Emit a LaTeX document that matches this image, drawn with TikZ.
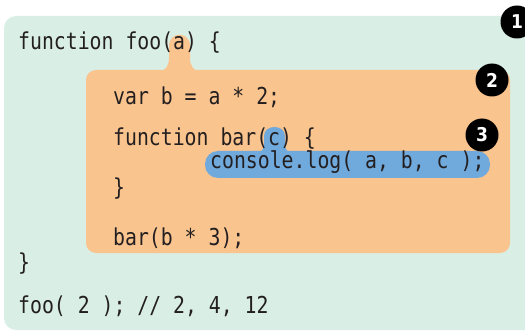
\documentclass[tikz,border=0pt]{standalone}
\usepackage{fontspec}
\usepackage{tikz}
\usetikzlibrary{positioning}
\newfontfamily\codefont{DejaVu Sans Mono}[FakeStretch=0.85]
\newfontfamily\badgefont{DejaVu Sans Condensed}
\definecolor{scopegreen}{HTML}{D9EEE4}
\definecolor{scopeorange}{HTML}{F9C48E}
\definecolor{scopeblue}{HTML}{70A9DB}
\definecolor{codeink}{HTML}{231F20}

\begin{document}
\begin{tikzpicture}[x=1pt, y=-1pt,
        code/.style={anchor=base west, inner sep=0pt, text=codeink, font=\codefont\fontsize{23.3}{28}\selectfont},
        badge/.style={circle, fill=black, text=white, minimum size=33pt, inner sep=0pt, font=\badgefont\bfseries\fontsize{19}{19}\selectfont}]
        \clip (0,0) rectangle (525,334);
        \fill[scopegreen, rounded corners=12pt] (4,16) rectangle (545,330); %global scope
        \fill[scopeorange, rounded corners=10pt] (86,70) rectangle (510,253); %foo scope
        \fill[scopeorange] (154,72) .. controls (166,72) and (169,66) .. (169,58) -- (169,46) .. controls (169,31) and (190,31) .. (190,46) -- (190,58) .. controls (190,66) and (193,72) .. (205,72) -- cycle;
        \fill[scopeblue, rounded corners=13pt] (205,151) rectangle (490,178); %bar scope
        \fill[scopeblue] (255,153) .. controls (262,153) and (264,149) .. (264,144) -- (264,136) .. controls (264,124) and (285,124) .. (285,136) -- (285,144) .. controls (285,149) and (287,153) .. (294,153) -- cycle;

        \node[code] (foo) at (18,50) {function foo(a) \{};
        \node[code] (varb) at (113,105) {var b = a * 2;};
        \node[code] (bar) at (113,146) {function bar(c) \{};
        \node[code] (log) at (210,169) {console.log( a, b, c );};
        \node[code] (barend) at (113,196) {\}};
        \node[code] (call) at (113,245) {bar(b * 3);};
        \node[code] (fooend) at (18,270) {\}};
        \node[code] (run) at (18,313) {foo( 2 ); // 2, 4, 12};

        \node[badge] (n1) at (517,22) {1};
        \node[badge] (n2) at (492,80) {2};
        \node[badge] (n3) at (482,135) {3};
\end{tikzpicture}
\end{document}
